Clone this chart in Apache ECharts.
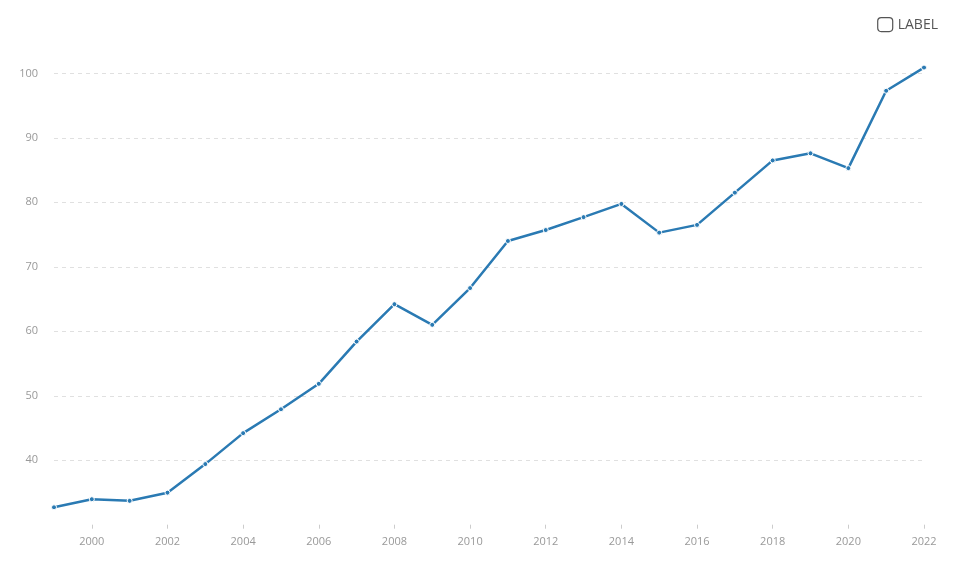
<!DOCTYPE html>
<html>
<head>
<meta charset="utf-8">
<script src="https://cdn.jsdelivr.net/npm/echarts@6/dist/echarts.min.js"></script>
<style>html,body{margin:0;padding:0;background:#fff}#c{width:959px;height:564px}</style>
</head>
<body>
<div id="c"></div>
<script>
const years = ['1999','2000','2001','2002','2003','2004','2005','2006','2007','2008','2009','2010','2011','2012','2013','2014','2015','2016','2017','2018','2019','2020','2021','2022'];
const values = [32.7,33.95,33.7,34.97,39.4,44.2,47.9,51.85,58.4,64.2,61.0,66.7,74.0,75.7,77.7,79.75,75.3,76.5,81.5,86.5,87.6,85.3,97.3,100.9];
const seriesName = 'LABEL';

const chart = echarts.init(document.getElementById('c'));
chart.setOption({
  animation: false,
  textStyle: { fontFamily: 'Open Sans' },
  legend: {
    data: [seriesName],
    right: 16, top: 12,
    icon: 'roundRect',
    itemWidth: 15, itemHeight: 14,
    itemGap: 8,
    itemStyle: { color: '#fff', borderColor: '#555', borderWidth: 1.2 },
    textStyle: { color: '#555', fontSize: 14, fontFamily: 'Open Sans' }
  },
  grid: { left: 54, right: 35, top: 8.9, bottom: 39.3, containLabel: false },
  xAxis: {
    type: 'category',
    data: years,
    boundaryGap: false,
    axisLine: { show: false },
    axisTick: { show: true, length: 4, lineStyle: { color: '#ccc' }, interval: (i) => i % 2 === 1 },
    axisLabel: { color: '#999', fontSize: 11, margin: 12, interval: (i) => i % 2 === 1 },
    splitLine: { show: false }
  },
  yAxis: {
    type: 'value',
    min: 30, max: 110, interval: 10,
    axisLine: { show: false },
    axisTick: { show: false },
    axisLabel: { color: '#999', fontSize: 11, margin: 16, showMinLabel: false, showMaxLabel: false },
    splitLine: { show: true, showMinLine: false, showMaxLine: false, lineStyle: { type: [4, 4], color: '#e0e0e0' } }
  },
  series: [{
    name: seriesName,
    type: 'line',
    data: values,
    symbol: 'circle',
    symbolSize: 5,
    showSymbol: true,
    lineStyle: { color: '#2a7ab3', width: 2.5 },
    itemStyle: { color: '#2a7ab3', borderColor: '#fff', borderWidth: 1 }
  }]
});
</script>
</body>
</html>
